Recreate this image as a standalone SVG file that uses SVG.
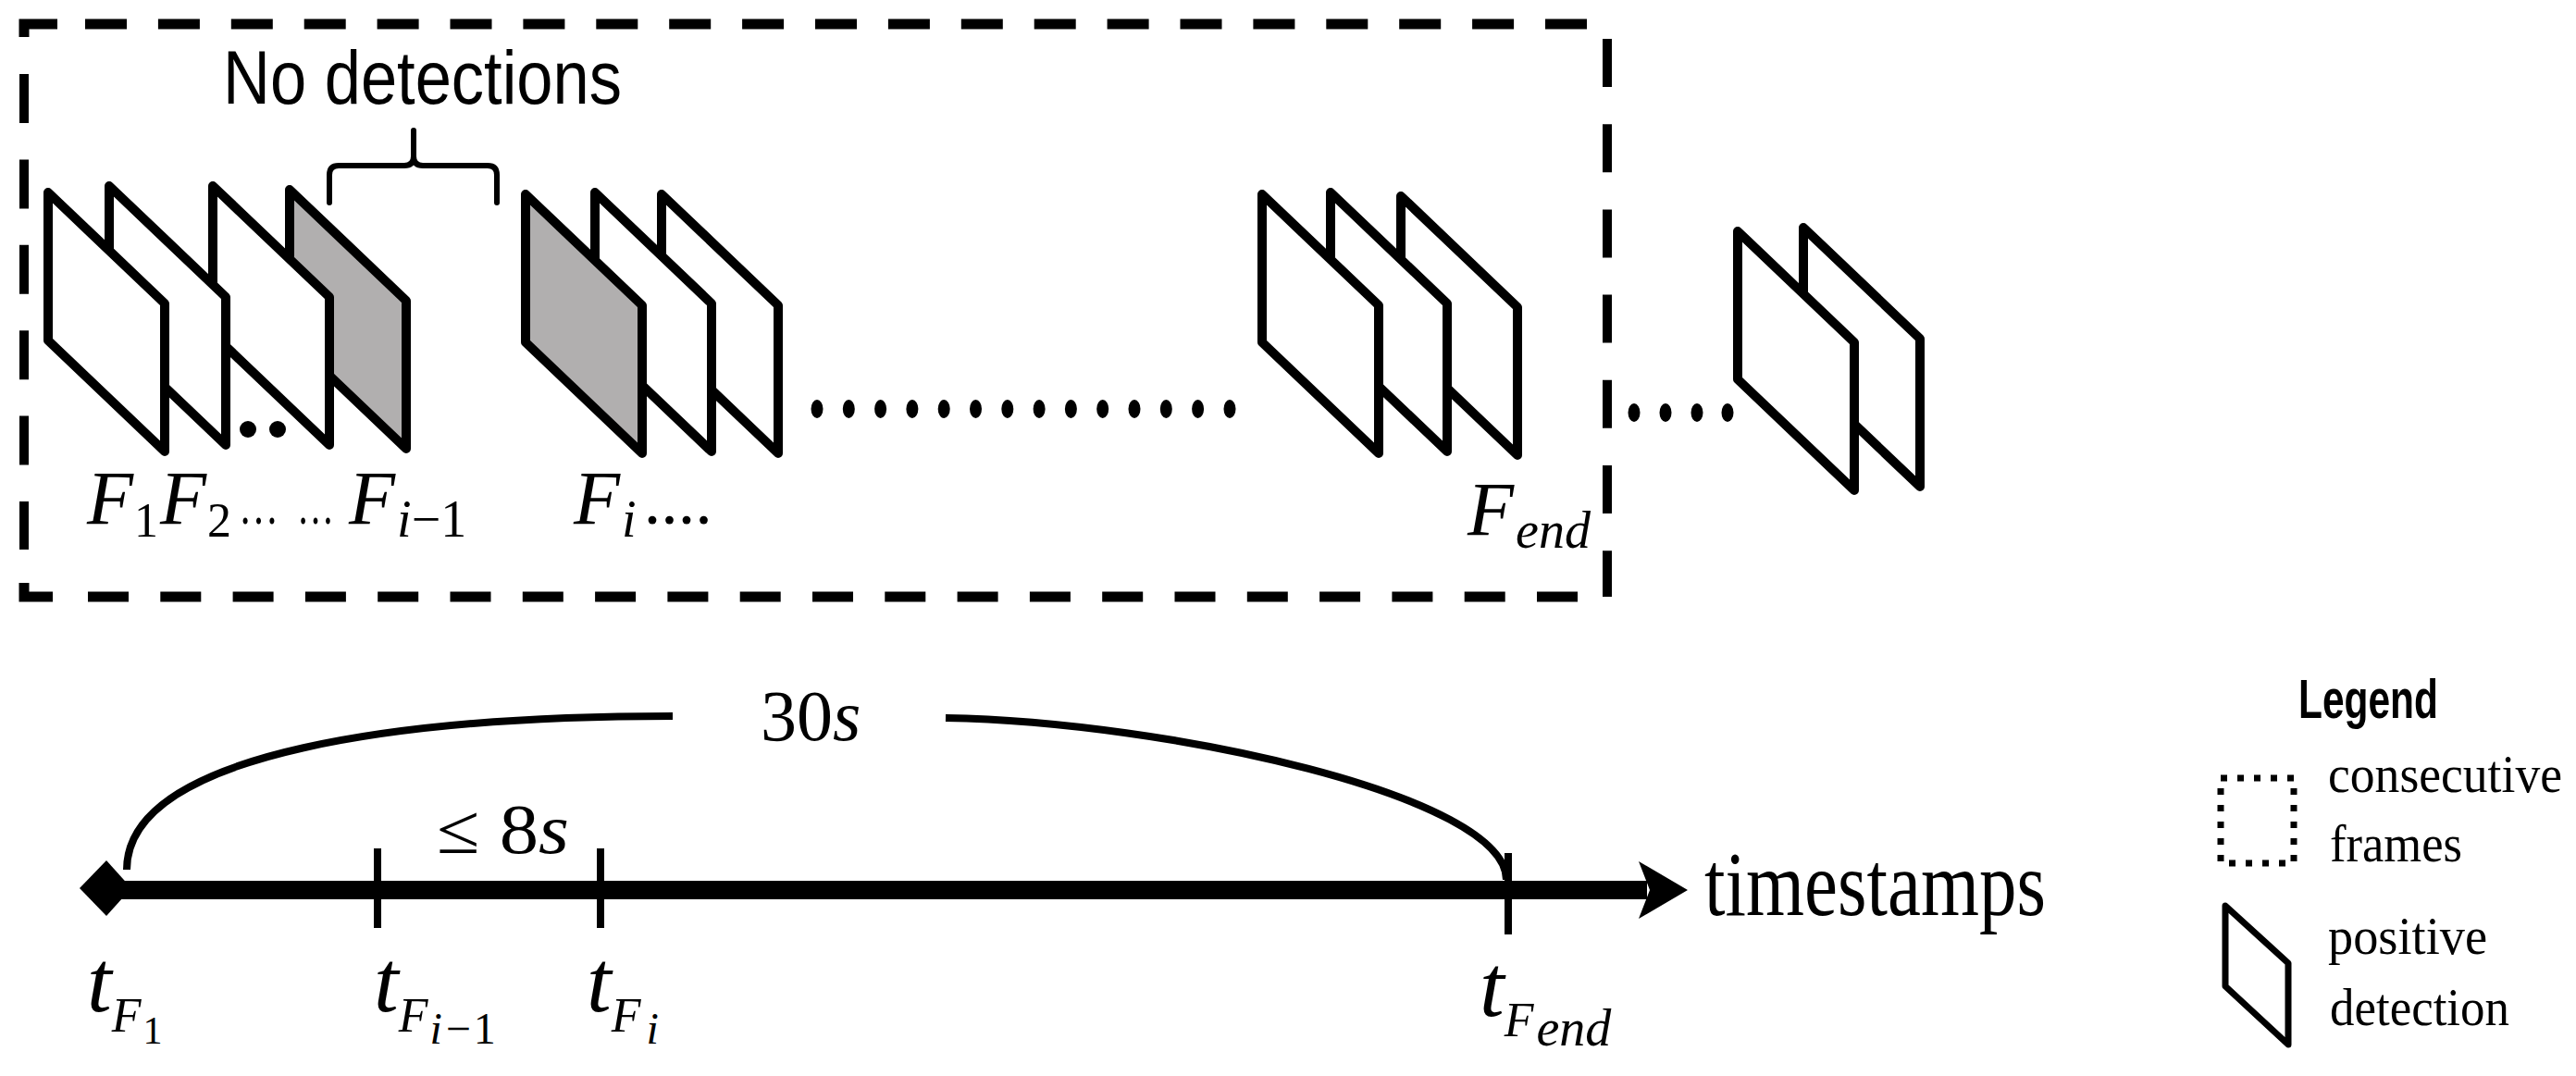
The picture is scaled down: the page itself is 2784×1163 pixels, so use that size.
<svg xmlns="http://www.w3.org/2000/svg" xmlns:xlink="http://www.w3.org/1999/xlink" width="2784" height="1163" viewBox="0 0 2784 1163">
<style>
.frame{fill:#fff;stroke:#000;stroke-width:10;stroke-linejoin:round}
.gray{fill:#b1afaf}
.dash{stroke:#000;fill:none}
.math{font-family:"Liberation Serif","Times New Roman",serif;font-style:italic;fill:#000}
.rm{font-family:"Liberation Serif","Times New Roman",serif;font-style:normal;fill:#000}
.sans{font-family:"Liberation Sans",Arial,sans-serif;fill:#000}
.dot{fill:#000}
.line{stroke:#000;fill:none}
</style>
<defs>
<path id="pg" d="M0,0 L126,120 L126,280 L0,160 Z"/>
</defs>
<rect width="2784" height="1163" fill="#fff"/>

<g id="consecutive-box">
<path class="dash" stroke-width="11" d="M26,40 V26 H62"/>
<line class="dash" stroke-width="11" x1="92" y1="26" x2="1715" y2="26" stroke-dasharray="45 33.9"/>
<line class="dash" stroke-width="10" x1="26" y1="80" x2="26" y2="594" stroke-dasharray="53 39.4"/>
<path class="dash" stroke-width="11" d="M26,630 V645 H57"/>
<line class="dash" stroke-width="11" x1="95" y1="645" x2="1706" y2="645" stroke-dasharray="44 34.3"/>
<line class="dash" stroke-width="10" x1="1737" y1="42" x2="1737" y2="645" stroke-dasharray="52 40.2"/>
</g>

<g id="no-detections">
<path class="line" stroke-width="6" stroke-linecap="round" d="M356,219 V189 Q356,179 366,179 H437 Q447,179 447,169 V141 M447,169 Q447,179 457,179 H527 Q537,179 537,189 V219"/>
<text class="sans" x="241" y="112" font-size="81" textLength="431" lengthAdjust="spacingAndGlyphs">No detections</text>
</g>

<g id="frames-start">
<use xlink:href="#pg" class="frame gray" x="313" y="205"/>
<use xlink:href="#pg" class="frame" x="230" y="201"/>
<use xlink:href="#pg" class="frame" x="118" y="201"/>
<use xlink:href="#pg" class="frame" x="52" y="208"/>
<ellipse class="dot" cx="268" cy="464" rx="9" ry="9"/>
<ellipse class="dot" cx="300" cy="464" rx="9" ry="9"/>
<text class="math" x="94" y="566" font-size="82">F<tspan class="rm" font-size="52" dx="1" dy="14">1</tspan></text>
<text class="math" x="173" y="566" font-size="82">F<tspan class="rm" font-size="52" dx="1" dy="14">2</tspan></text>
<text class="rm" x="258" y="566" font-size="60" textLength="43" lengthAdjust="spacingAndGlyphs">…</text>
<text class="rm" x="321" y="566" font-size="60" textLength="40" lengthAdjust="spacingAndGlyphs">…</text>
<text class="math" x="377" y="566" font-size="82">F<tspan font-size="56" dx="2" dy="14">i</tspan><tspan class="rm" font-size="56">−1</tspan></text>
</g>

<g id="frames-fi">
<use xlink:href="#pg" class="frame" x="715" y="210"/>
<use xlink:href="#pg" class="frame" x="643" y="208"/>
<use xlink:href="#pg" class="frame gray" x="568" y="210"/>
<text class="math" x="620" y="566" font-size="82">F<tspan font-size="56" dx="2" dy="14">i</tspan><tspan class="rm" font-size="74" dx="8" dy="-14">....</tspan></text>
</g>

<g id="gap-dots">
<ellipse class="dot" cx="883" cy="442" rx="6.5" ry="10"/>
<ellipse class="dot" cx="917.3" cy="442" rx="6.5" ry="10"/>
<ellipse class="dot" cx="951.6" cy="442" rx="6.5" ry="10"/>
<ellipse class="dot" cx="985.9" cy="442" rx="6.5" ry="10"/>
<ellipse class="dot" cx="1020.2" cy="442" rx="6.5" ry="10"/>
<ellipse class="dot" cx="1054.5" cy="442" rx="6.5" ry="10"/>
<ellipse class="dot" cx="1088.8" cy="442" rx="6.5" ry="10"/>
<ellipse class="dot" cx="1123.1" cy="442" rx="6.5" ry="10"/>
<ellipse class="dot" cx="1157.4" cy="442" rx="6.5" ry="10"/>
<ellipse class="dot" cx="1191.7" cy="442" rx="6.5" ry="10"/>
<ellipse class="dot" cx="1226" cy="442" rx="6.5" ry="10"/>
<ellipse class="dot" cx="1260.3" cy="442" rx="6.5" ry="10"/>
<ellipse class="dot" cx="1294.6" cy="442" rx="6.5" ry="10"/>
<ellipse class="dot" cx="1329" cy="442" rx="6.5" ry="10"/>
</g>

<g id="frames-end">
<use xlink:href="#pg" class="frame" x="1514" y="212"/>
<use xlink:href="#pg" class="frame" x="1438" y="208"/>
<use xlink:href="#pg" class="frame" x="1364" y="210"/>
<text class="math" x="1586" y="578" font-size="82">F<tspan font-size="56" dx="2" dy="14">end</tspan></text>
</g>

<g id="outside-dots">
<ellipse class="dot" cx="1766" cy="446" rx="6.5" ry="10"/>
<ellipse class="dot" cx="1800" cy="446" rx="6.5" ry="10"/>
<ellipse class="dot" cx="1834" cy="446" rx="6.5" ry="10"/>
<ellipse class="dot" cx="1867" cy="446" rx="6.5" ry="10"/>
</g>

<g id="frames-outside">
<use xlink:href="#pg" class="frame" x="1949" y="246"/>
<use xlink:href="#pg" class="frame" x="1878" y="250"/>
</g>

<g id="connectors">
<line class="line" stroke-width="20" x1="130" y1="962" x2="1780" y2="962"/>
<polygon points="86,960 115,930 142,960 115,990" fill="#000"/>
<polygon points="1771,931 1824,962 1771,993 1783,962" fill="#000"/>
<line class="line" stroke-width="8" x1="408" y1="917" x2="408" y2="1003"/>
<line class="line" stroke-width="8" x1="649" y1="917" x2="649" y2="1003"/>
<line class="line" stroke-width="8" x1="1630" y1="922" x2="1630" y2="1010"/>
<path class="line" stroke-width="8" d="M137,940 C137,810 450,774 727,774"/>
<path class="line" stroke-width="8" d="M1022,776 C1260,780 1628,860 1628,951"/>
</g>

<g id="timeline-labels">
<text class="rm" x="822" y="800" font-size="78">30<tspan class="math">s</tspan></text>
<text class="rm" x="472" y="922" font-size="76" textLength="143" lengthAdjust="spacingAndGlyphs">≤ 8<tspan class="math">s</tspan></text>
<text class="rm" x="1842" y="989" font-size="100" textLength="369" lengthAdjust="spacingAndGlyphs">timestamps</text>
<text class="math" x="94" y="1093" font-size="96">t<tspan font-size="52" dy="22">F</tspan><tspan class="rm" font-size="42" dx="2" dy="13">1</tspan></text>
<text class="math" x="404" y="1093" font-size="96">t<tspan font-size="52" dy="22">F</tspan><tspan font-size="48" dx="2" dy="13">i</tspan><tspan class="rm" font-size="48" dx="4">−</tspan><tspan class="rm" font-size="48" dx="3">1</tspan></text>
<text class="math" x="634" y="1093" font-size="96">t<tspan font-size="52" dy="22">F</tspan><tspan font-size="48" dx="6" dy="13">i</tspan></text>
<text class="math" x="1599" y="1098" font-size="96">t<tspan font-size="52" dy="22">F</tspan><tspan font-size="56" dx="3" dy="10">end</tspan></text>
</g>

<g id="legend">
<text class="sans" x="2484" y="776" font-size="60" font-weight="bold" textLength="151" lengthAdjust="spacingAndGlyphs">Legend</text>
<rect x="2400" y="841" width="79" height="92" fill="none" stroke="#000" stroke-width="7" stroke-dasharray="7 11"/>
<text class="rm" x="2516" y="856" font-size="56" textLength="253" lengthAdjust="spacingAndGlyphs">consecutive</text>
<text class="rm" x="2518" y="931" font-size="56" textLength="143" lengthAdjust="spacingAndGlyphs">frames</text>
<path d="M2405,979 L2473,1041 L2473,1129 L2405,1066 Z" fill="#fff" stroke="#000" stroke-width="7" stroke-linejoin="round"/>
<text class="rm" x="2516" y="1031" font-size="56" textLength="172" lengthAdjust="spacingAndGlyphs">positive</text>
<text class="rm" x="2518" y="1108" font-size="56" textLength="194" lengthAdjust="spacingAndGlyphs">detection</text>
</g>
</svg>
